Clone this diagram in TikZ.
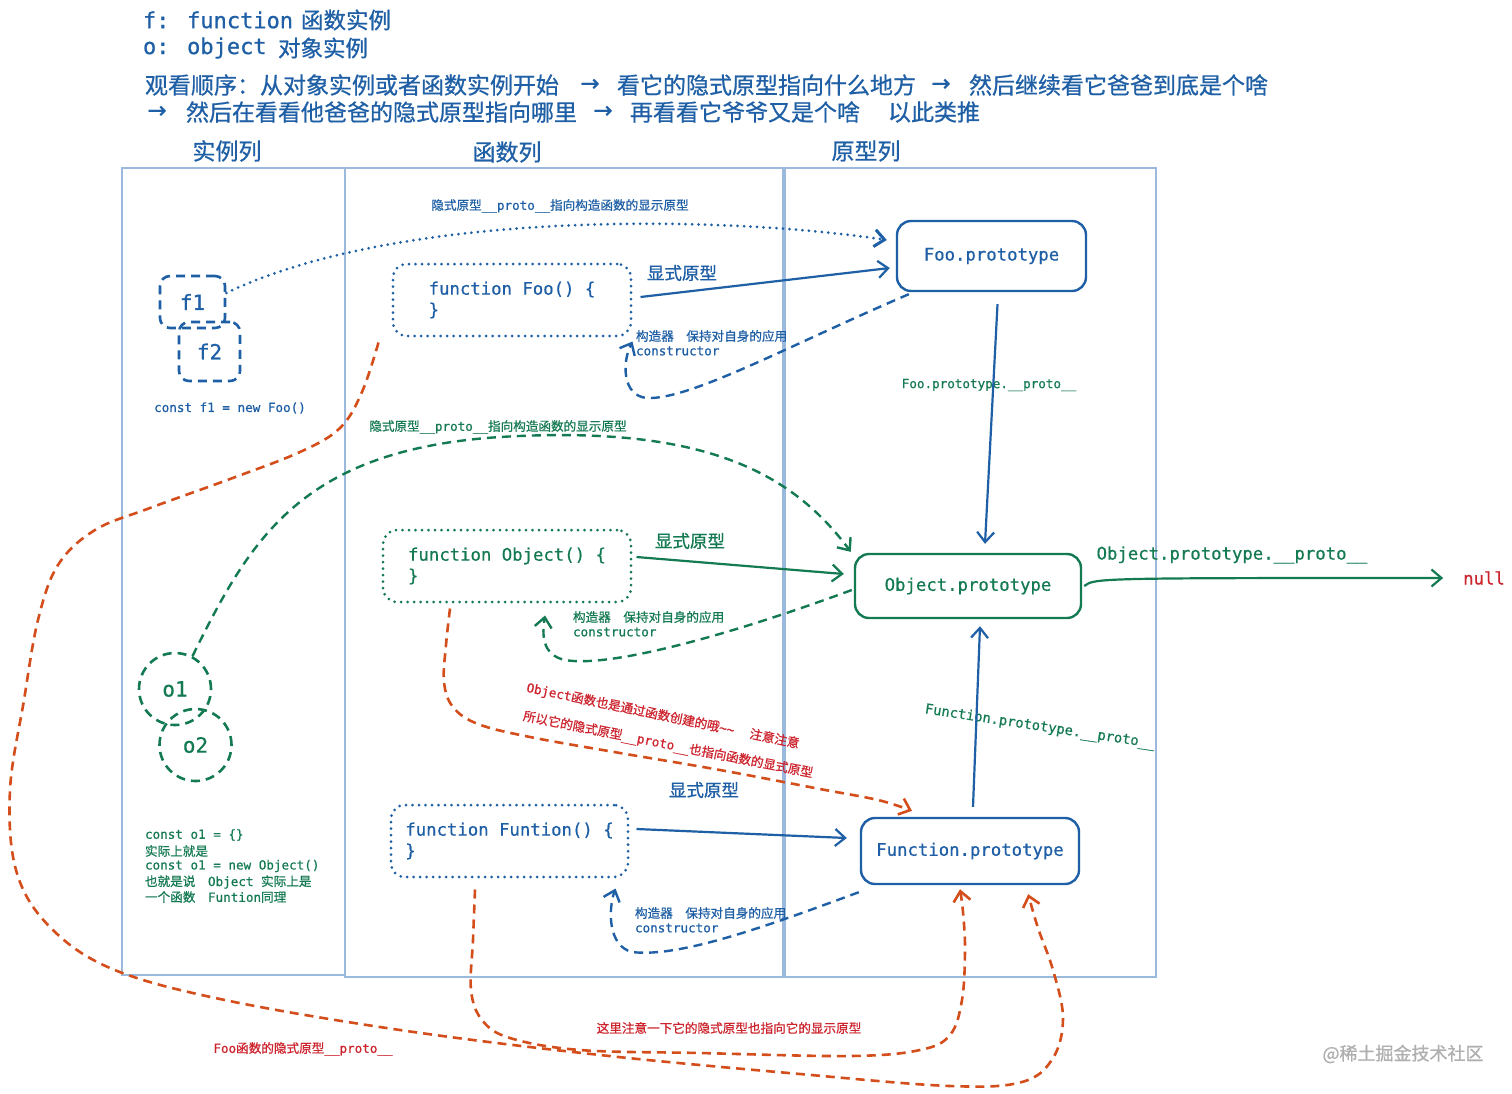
\documentclass[tikz,border=0pt]{standalone}
\usepackage{fontspec}
\setmainfont{Noto Sans CJK SC}
\newfontfamily\cjkf{Noto Sans CJK SC}[FakeBold=0.7]
\newfontfamily\monof{DejaVu Sans Mono}[FakeBold=0.6]
\newfontfamily\symf{DejaVu Sans}[FakeBold=0.6]
\usetikzlibrary{arrows.meta,calc}
\newcommand\fsz[1]{\fontsize{#1}{#1}\selectfont}
\newcommand\CJ[1]{{\cjkf #1}}
\newcommand\MO[1]{{\monof #1}}
\definecolor{cb}{RGB}{30,95,165}
\definecolor{cg}{RGB}{20,122,82}
\definecolor{co}{RGB}{212,78,28}
\definecolor{cr}{RGB}{205,35,45}
\definecolor{cf}{RGB}{155,185,220}
\definecolor{cw}{RGB}{175,175,175}
\tikzset{
  txt/.style={inner sep=0pt, outer sep=0pt},
  colframe/.style={draw=cf, line width=1.5pt},
  probox/.style={draw, rounded corners=14pt, line width=2.4pt, inner sep=0pt, font=\monof\fsz{17.3}},
  codebox/.style={draw, rounded corners=14pt, line width=3pt, dash pattern=on 0pt off 6.5pt, line cap=round, align=left, inner sep=0pt, font=\monof\fontsize{17.3}{21}\selectfont},
  instbox/.style={draw, rounded corners=10pt, line width=2.6pt, dash pattern=on 9pt off 6pt, inner sep=0pt, font=\monof\fsz{21}},
  instcirc/.style={circle, draw, line width=2.6pt, dash pattern=on 9pt off 6pt, minimum size=72pt, inner sep=0pt, font=\monof\fsz{21}},
  tipv/.style={-{Straight Barb[length=10pt,width=17pt]}},
  solidc/.style={line width=2.2pt, tipv},
  dashc/.style={line width=2.4pt, dash pattern=on 9pt off 6pt, tipv},
  dotc/.style={line width=3pt, dash pattern=on 0pt off 6.5pt, line cap=round, tipv},
  orc/.style={draw=co, line width=2.6pt, dash pattern=on 9pt off 6pt, tipv},
  hdr/.style={txt, text=cb, font=\cjkf\fsz{23}},
  arr/.style={txt, text=cb, font=\symf\fsz{23}},
  small/.style={txt, font=\fsz{12.6}},
}
\begin{document}
\begin{tikzpicture}[x=1pt,y=-1pt]
\useasboundingbox (0,0) rectangle (1512,1093);
\fill[white] (0,0) rectangle (1512,1093);

% ---------- header ----------
\node[txt,anchor=west,text=cb,font=\monof\fsz{22}] (h1a) at (143,20) {f: function};
\node[hdr,anchor=west,font=\cjkf\fsz{22.5}] (h1b) at (301,20) {函数实例};
\node[txt,anchor=west,text=cb,font=\monof\fsz{22}] (h2a) at (143,48) {o: object};
\node[hdr,anchor=west,font=\cjkf\fsz{22.5}] (h2b) at (278,48) {对象实例};
\node[hdr,anchor=west] (h3a) at (145,85) {观看顺序：从对象实例或者函数实例开始};
\node[arr] (h3b) at (590,85) {→};
\node[hdr,anchor=west] (h3c) at (617,85) {看它的隐式原型指向什么地方};
\node[arr] (h3d) at (941,85) {→};
\node[hdr,anchor=west] (h3e) at (969,85) {然后继续看它爸爸到底是个啥};
\node[arr] (h4a) at (157,112) {→};
\node[hdr,anchor=west] (h4b) at (186,112) {然后在看看他爸爸的隐式原型指向哪里};
\node[arr] (h4c) at (603,112) {→};
\node[hdr,anchor=west] (h4d) at (630,112) {再看看它爷爷又是个啥};
\node[hdr,anchor=west] (h4e) at (888,112) {以此类推};

% ---------- columns ----------
\node[hdr] (c1) at (227,151) {实例列};
\node[hdr] (c2) at (507,152) {函数列};
\node[hdr] (c3) at (866,151) {原型列};
\draw[colframe] (122,168) rectangle (345,975);
\draw[colframe] (345,168) rectangle (783,977);
\draw[colframe] (785,168) rectangle (1156,977);

% ---------- main nodes ----------
\node[instbox,draw=cb,text=cb,minimum width=65pt,minimum height=52pt] (f1) at (192.5,302) {f1};
\node[instbox,draw=cb,text=cb,minimum width=61pt,minimum height=59pt] (f2) at (209.5,351.5) {f2};
\node[instcirc,draw=cg,text=cg] (o1) at (175,689) {o1};
\node[instcirc,draw=cg,text=cg] (o2) at (195.5,745) {o2};

\node[codebox,draw=cb,text=cb,minimum width=238pt,minimum height=72pt] (fooF) at (512,300) {function Foo() \{\\\}};
\node[codebox,draw=cg,text=cg,minimum width=248pt,minimum height=72pt] (objF) at (507,566) {function Object() \{\\\}};
\node[codebox,draw=cb,text=cb,minimum width=237pt,minimum height=72pt] (funF) at (509.5,841) {function Funtion() \{\\\}};

\node[probox,draw=cb,text=cb,minimum width=189pt,minimum height=70pt] (fooP) at (991.5,256) {Foo.prototype};
\node[probox,draw=cg,text=cg,minimum width=226pt,minimum height=64pt] (objP) at (968,586) {Object.prototype};
\node[probox,draw=cb,text=cb,minimum width=218pt,minimum height=66pt] (funP) at (970,851) {Function.prototype};
\node[txt,text=cr,font=\monof\fsz{17.3}] (null) at (1484,578) {null};

% ---------- labels ----------
\node[small,text=cb] (lf1) at (230,408) {\MO{const f1 = new Foo()}};
\node[small,text=cb] (ltop1) at (560,206) {\CJ{隐式原型}\MO{\_\_proto\_\_}\CJ{指向构造函数的显示原型}};
\node[txt,text=cb,font=\cjkf\fsz{17.5}] (lx1) at (682,273) {显式原型};
\node[small,anchor=west,text=cb] (lc1) at (636,336) {\CJ{构造器　保持对自身的应用}};
\node[small,anchor=west,text=cb] (lc2) at (636,351) {\MO{constructor}};
\node[small,text=cg] (lfp) at (989,385) {\MO{Foo.prototype.\_\_proto\_\_}};

\node[small,text=cg] (ltop2) at (498,427) {\CJ{隐式原型}\MO{\_\_proto\_\_}\CJ{指向构造函数的显示原型}};
\node[txt,text=cg,font=\cjkf\fsz{17.5}] (lx2) at (690,541) {显式原型};
\node[small,anchor=west,text=cg] (lc3) at (573,617) {\CJ{构造器　保持对自身的应用}};
\node[small,anchor=west,text=cg] (lc4) at (573,632) {\MO{constructor}};
\node[txt,text=cg,font=\monof\fsz{17.3}] (lop) at (1232,555) {Object.prototype.\_\_proto\_\_};

\node[small,anchor=west,text=cg] (lg1) at (145,835) {\MO{const o1 = \{\}}};
\node[small,anchor=west,text=cg] (lg2) at (145,851) {\CJ{实际上就是}};
\node[small,anchor=west,text=cg] (lg3) at (145,866) {\MO{const o1 = new Object()}};
\node[small,anchor=west,text=cg] (lg4) at (145,882) {\CJ{也就是说　}\MO{Object }\CJ{实际上是}};
\node[small,anchor=west,text=cg] (lg5) at (145,897) {\CJ{一个函数　}\MO{Funtion}\CJ{同理}};

\node[small,text=cr,rotate=-11.7] (lr1) at (663,716) {\MO{Object}\CJ{函数也是通过函数创建的哦}\MO{\textasciitilde\textasciitilde}\hspace{16pt}\CJ{注意注意}};
\node[small,text=cr,rotate=-11.2] (lr2) at (668,745) {\CJ{所以它的隐式原型}\MO{\_\_proto\_\_}\CJ{也指向函数的显式原型}};
\node[txt,text=cb,font=\cjkf\fsz{17.5}] (lx3) at (704,790) {显式原型};
\node[small,anchor=west,text=cb] (lc5) at (635,913) {\CJ{构造器　保持对自身的应用}};
\node[small,anchor=west,text=cb] (lc6) at (635,928) {\MO{constructor}};
\node[txt,text=cg,font=\monof\fsz{13.8},rotate=-8.6] (lfun) at (1040,727) {Function.prototype.\_\_proto\_\_};

\node[small,text=cr] (lr3) at (729,1028) {\CJ{这里注意一下它的隐式原型也指向它的显示原型}};
\node[small,text=cr] (lr4) at (303,1049) {\MO{Foo}\CJ{函数的隐式原型}\MO{\_\_proto\_\_}};
\node[txt,text=cw,font=\cjkf\fsz{18}] (wm) at (1403,1054) {@稀土掘金技术社区};

% ---------- connectors: Foo row ----------
\draw[dotc,draw=cb] (f1.15) .. controls (400,210) and (720,215) .. ([xshift=-9pt,yshift=16pt]fooP.west);
\draw[solidc,draw=cb] ([xshift=8pt,yshift=3pt]fooF.east) -- ([xshift=-6pt,yshift=-12pt]fooP.west);
\coordinate (bc0) at ([xshift=13pt,yshift=-2pt]fooP.south west);
\coordinate (bc1) at ([yshift=-4pt]fooF.south east);
\draw[dashc,draw=cb] (bc0) .. controls (790,345) and (690,400) .. (647,398) .. controls (622,396) and (622,362) .. (bc1);
\draw[solidc,draw=cb] ([xshift=6pt,yshift=-12pt]fooP.south) -- ([xshift=17pt,yshift=9pt]objP.north);

% ---------- Object row ----------
\draw[dashc,draw=cg] (o1.62) .. controls (250,540) and (300,450) .. (500,437) .. controls (700,425) and (790,470) .. ([xshift=-3pt,yshift=1pt]objP.north west);
\draw[solidc,draw=cg] ([xshift=4pt,yshift=9pt]objF.east) -- ([xshift=-10pt,yshift=12pt]objP.west);
\coordinate (oc0) at ([xshift=-2pt,yshift=-4pt]objP.west);
\coordinate (oc1) at ([xshift=38pt,yshift=-12pt]objF.south);
\draw[dashc,draw=cg] (oc0) .. controls (730,635) and (610,668) .. (565,660) .. controls (542,655) and (542,635) .. (oc1);
\draw[solidc,draw=cg] ([xshift=2pt]objP.east) .. controls (1095,578) .. ([xshift=-20pt]null.west);

% ---------- Function row ----------
\draw[solidc,draw=cb] ([xshift=7pt,yshift=12pt]funF.east) -- ([xshift=-13pt,yshift=13pt]funP.west);
\coordinate (fc0) at ([xshift=-1pt,yshift=-7pt]funP.south west);
\coordinate (fc1) at ([xshift=-14pt,yshift=-10pt]funF.south east);
\draw[dashc,draw=cb] (fc0) .. controls (770,925) and (680,958) .. (632,952) .. controls (608,946) and (608,910) .. (fc1);
\draw[solidc,draw=cb] ([xshift=3pt,yshift=10pt]funP.north) -- ([xshift=12pt,yshift=-7pt]objP.south);

% ---------- orange __proto__ of functions ----------
\coordinate (oa0) at ([xshift=-13pt,yshift=-5pt]fooF.south west);
\coordinate (oa1) at ([xshift=-52pt,yshift=-9pt]funP.south east);
\draw[orc] plot[smooth,tension=0.6] coordinates {(oa0) (362,392) (340,428) (300,452) (230,479) (150,508) (95,530) (58,565) (38,620) (24,700) (10,790) (16,870) (48,925) (110,968) (220,999) (400,1030) (600,1055) (800,1074) (950,1086) (1022,1082) (1053,1058) (1063,1018) (1053,970) (1038,928) (oa1)};

\coordinate (ob0) at ([xshift=-57pt,yshift=-5pt]objF.south);
\coordinate (ob1) at ([xshift=-58pt,yshift=6pt]funP.north);
\draw[orc] plot[smooth,tension=0.6] coordinates {(ob0) (446,645) (444,682) (453,707) (478,724) (530,737) (620,753) (720,770) (820,789) (878,800) (ob1)};

\coordinate (oc2) at ([xshift=-34.5pt,yshift=-11pt]funF.south);
\coordinate (oc3) at ([xshift=-10pt,yshift=-4pt]funP.south);
\draw[orc] plot[smooth,tension=0.6] coordinates {(oc2) (473,940) (471,990) (482,1020) (510,1038) (580,1050) (700,1053) (850,1056) (920,1050) (950,1035) (962,1000) (965,950) (963,912) (oc3)};
\end{tikzpicture}
\end{document}
